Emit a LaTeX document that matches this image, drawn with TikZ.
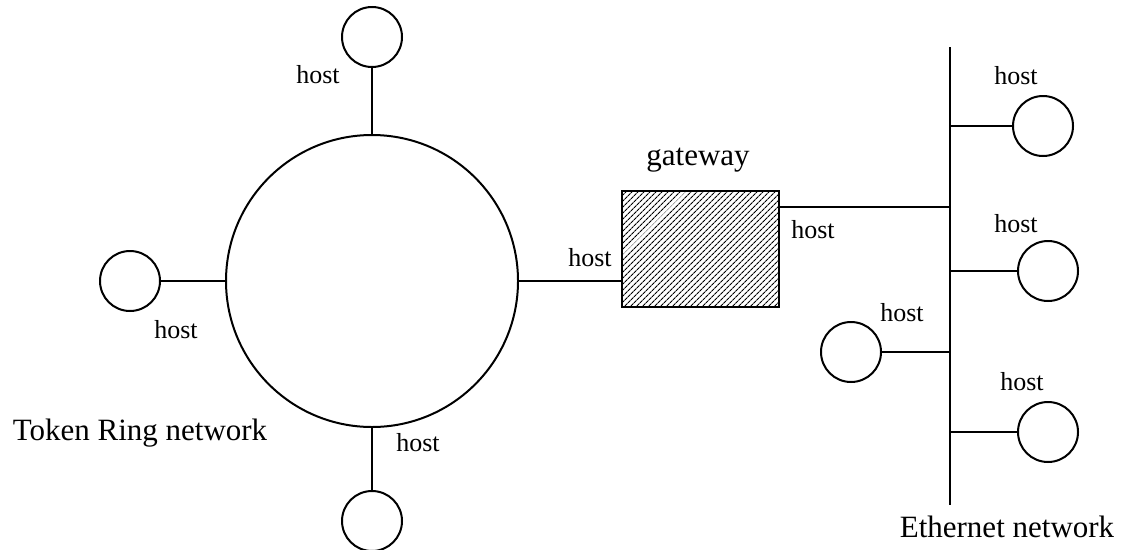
\documentclass[tikz,border=0pt]{standalone}
\usepackage{fontspec}
\setmainfont{Liberation Serif}
\usetikzlibrary{positioning,calc,patterns.meta}

\begin{document}
\begin{tikzpicture}[
  x=1pt, y=-1pt,
  line width=2pt,
  font=\fontsize{26}{30}\selectfont,
  ringnode/.style={circle, draw, minimum size=292pt, inner sep=0pt},
  hostnode/.style={circle, draw, minimum size=60pt, inner sep=0pt},
  gwbox/.style={rectangle, draw, minimum width=157pt, minimum height=116pt,
    inner sep=0pt, pattern={Lines[angle=45, distance=4pt, line width=1.2pt]}},
  lbl/.style={inner sep=0pt},
  netlbl/.style={inner sep=0pt, font=\fontsize{31}{36}\selectfont}
]
\useasboundingbox (0,0) rectangle (1123,549);

% token ring and its hosts
\node[ringnode] (ring) at (372,281) {};
\node[hostnode, above=66pt of ring] (rtop) {};
\node[hostnode, left=64pt of ring] (rleft) {};
\node[hostnode, below=62pt of ring] (rbot) {};

\draw (rtop) -- (ring);
\draw (rleft) -- (ring);
\draw (rbot) -- (ring);

\node[lbl] at (318,75) {host};
\node[lbl] at (176,330) {host};
\node[lbl] at (418,443) {host};
\node[netlbl] at (140,433) {Token Ring network};

% gateway
\node[gwbox] (gw) at (700.5,249) {};
\node[netlbl] (gwlbl) at (698,160) {gateway};
\draw (ring.east) -- (ring.east -| gw.west);
\node[lbl] at (590,258) {host};
\node[lbl] at (813,230) {host};

% ethernet bus
\coordinate (bustop) at (950,47);
\coordinate (busbot) at (950,505);
\draw (bustop) -- (busbot);
\coordinate (gwout) at (779,207);
\draw (gwout) -- (gwout -| bustop);

\node[hostnode] (e1) at (1043,126) {};
\node[hostnode] (e2) at (1048,271) {};
\node[hostnode] (e3) at (851,352) {};
\node[hostnode] (e4) at (1048,432) {};
\foreach \h in {e1,e2,e3,e4}
  \draw (\h) -- (\h -| bustop);

\node[lbl] at (1016,76) {host};
\node[lbl] at (1016,224) {host};
\node[lbl] at (902,313) {host};
\node[lbl] at (1022,382) {host};
\node[netlbl] at (1007,527) {Ethernet network};

\end{tikzpicture}
\end{document}
